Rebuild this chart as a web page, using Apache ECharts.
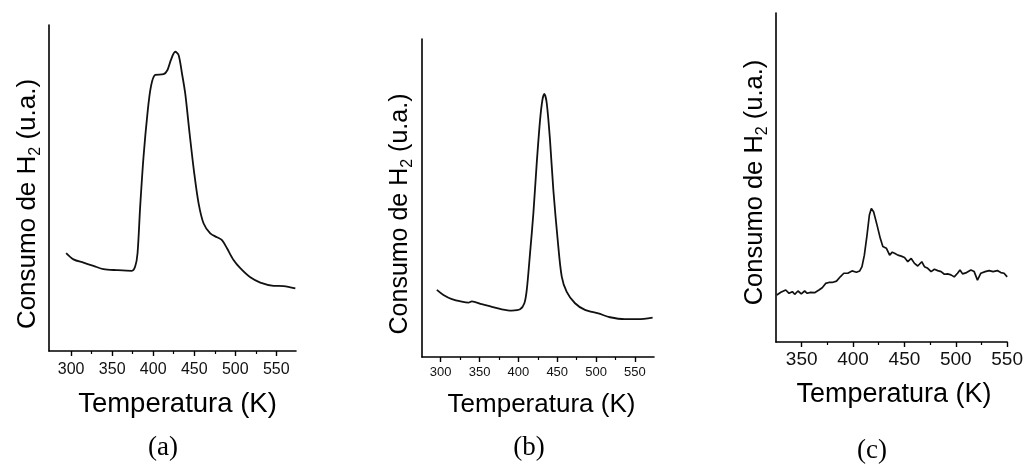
<!DOCTYPE html>
<html>
<head>
<meta charset="utf-8">
<script src="https://cdn.jsdelivr.net/npm/echarts@6/dist/echarts.min.js"></script>
<style>
html,body{margin:0;padding:0;background:#fff;}
#c{width:1026px;height:467px;}
</style>
</head>
<body>
<div id="c"></div>
<script>
// ---- data (a) ----
const tempA = [293.9,302.8,315,327.2,339.4,355.7,374,378,380.9,384.1,388.2,393,397.2,402.4,412.6,417.4,421.6,426.8,430.9,435,439,444.3,450,455.3,461.3,469.5,477.7,483.8,489.9,497.9,506.1,518.3,530.5,546.7,558.9,573.2];
const valA  = [30,28.1,27.1,26.1,25.1,24.8,24.6,25.9,30,44.3,59.6,72.9,81.1,84.7,84.9,86.2,89.3,91.8,90.8,85.2,79,66.8,54.5,45.3,39.2,36.1,34.9,34,31.5,27.9,25.4,22.6,21,20,19.9,19.2];
// ---- data (b) ----
const tempB = [295.1,303.6,314.4,327.2,335.7,340.1,352.9,365.8,378.7,391.5,402.2,407.7,410.8,415,419.3,423.6,427.9,430.9,433.4,436.5,440.7,445,450.6,455.8,462.2,472.9,485.7,502.8,517.9,537.1,554.2,572.7];
const valB  = [21.1,19.5,18.2,17.4,17.1,17.5,16.6,15.8,15,14.6,15,16.9,21.1,32.6,45.2,60.9,74.5,80.8,82.7,79.8,68.2,52.5,36.8,25.3,20.5,16.9,14.8,13.7,12.5,11.9,11.9,12.4];
// ---- data (c) ----
const tempC = [325.8,329.7,334.5,337.7,340.9,343.2,346.4,349.6,352.9,355.4,358.7,362.6,366.8,370,373.3,376.5,379.7,383.9,387.8,391,394.9,399,403.3,406.5,408.7,411,413.6,415.9,417.8,420,423.3,426.5,429,432.4,435.6,438.2,440.4,443.6,446.9,450.1,453.3,456.6,459.8,463,466.9,469.5,472.7,476,479.2,482.4,485.7,488.9,492.1,495.3,498.5,501.7,504.1,506.6,510.5,514.7,517.9,521.1,524.4,528.6,532.5,536.3,540.5,543.8,547,550];
const valC  = [14.3,15.1,15.8,14.8,15.3,14.5,15.5,14.6,15.5,14.8,15.1,15,15.8,16.5,17.8,18.1,18.1,18.5,19.9,20.9,20.9,21.6,21.2,21.6,22.9,26.4,32.5,38.6,40.6,39.6,35.6,31.5,29,28.5,26.4,27.3,27,26.4,26.1,25.7,24.4,25.4,23.9,23.1,24.4,22.9,22.4,21.4,22.1,21.7,21.4,20.6,20.7,20.4,19.8,20.9,21.9,20.7,21.1,21.9,21.4,18.8,20.9,21.4,21.7,21.4,21.7,21.1,20.9,19.8];
// ---- tick labels ----
const ticksAB = [300,350,400,450,500,550];
const minorAB = [325,375,425,475,525,575];
const ticksC = [350,400,450,500,550];
const minorC = [375,425,475,525];
const xName = 'Temperatura (K)';
const yName = '{n|Consumo de H}{s|2}{n| (u.a.)}';
const panelLabels = ['(a)','(b)','(c)'];

const pair = (xs, ys) => xs.map((x, i) => [x, ys[i]]);
const SANS = 'Liberation Sans, Arial, sans-serif';

const grids = [
  {left:49, top:25, width:247, height:326},
  {left:422, top:39, width:232, height:318},
  {left:776, top:13, width:233, height:329}
];
const xr = [[273,574],[276,574.5],[325,550]];
const ticks = [ticksAB, ticksAB, ticksC];
const minors = [minorAB, minorAB, minorC];
const labelSize = [16,13,19];
const labelMargin = [11,9,8];
const xNameSize = [27.5,26,27];
const xNameGap = [39,35,39];
const xNamePad = [[0,0,0,10],[0,0,0,7],[0,0,0,5]];
const yNameSize = [26,25,25.5];
const yNameGap = [5,6,5];
const yNamePad = [[0,32,0,0],[0,32,0,0],[0,10,0,0]];

const xAxis = [], yAxis = [];
for (let i = 0; i < 3; i++) {
  xAxis.push({
    type:'value', gridIndex:i, min:xr[i][0], max:xr[i][1], position:'bottom',
    axisLine:{show:true, onZero:false, lineStyle:{color:'#000', width:1.6}},
    axisTick:{show:true, inside:false, length:5, customValues:ticks[i], lineStyle:{color:'#000', width:1.4}},
    axisLabel:{show:true, customValues:ticks[i], fontSize:labelSize[i], fontFamily:SANS, color:'#111', margin:labelMargin[i]},
    splitLine:{show:false},
    name:xName, nameLocation:'middle', nameGap:xNameGap[i],
    nameTextStyle:{fontSize:xNameSize[i], fontFamily:SANS, color:'#000', padding:xNamePad[i]}
  });
  xAxis.push({
    type:'value', gridIndex:i, min:xr[i][0], max:xr[i][1], position:'bottom',
    axisLine:{show:false},
    axisTick:{show:true, inside:false, length:3, customValues:minors[i], lineStyle:{color:'#000', width:1.2}},
    axisLabel:{show:false},
    splitLine:{show:false}
  });
  const fs = yNameSize[i];
  yAxis.push({
    type:'value', gridIndex:i, min:0, max:100,
    axisLine:{show:true, lineStyle:{color:'#000', width:1.6}},
    axisTick:{show:false}, axisLabel:{show:false}, splitLine:{show:false},
    name:yName, nameLocation:'middle', nameRotate:90, nameGap:yNameGap[i],
    nameTextStyle:{
      padding:yNamePad[i],
      rich:{
        n:{fontSize:fs, fontFamily:SANS, color:'#000', lineHeight:32, verticalAlign:'middle'},
        s:{fontSize:Math.round(fs*0.62), fontFamily:SANS, color:'#000', lineHeight:14, verticalAlign:'bottom'}
      }
    }
  });
}

const lineStyle = {color:'#111', width:1.8};
const series = [
  {type:'line', xAxisIndex:0, yAxisIndex:0, data:pair(tempA, valA), showSymbol:false, smooth:0.3, lineStyle},
  {type:'line', xAxisIndex:2, yAxisIndex:1, data:pair(tempB, valB), showSymbol:false, smooth:0.3, lineStyle},
  {type:'line', xAxisIndex:4, yAxisIndex:2, data:pair(tempC, valC), showSymbol:false, smooth:false, lineStyle:{color:'#111', width:1.7}}
];

const labelPos = [[163,448],[529,448],[872,451]];
const graphic = panelLabels.map((t, i) => ({
  type:'text', x:labelPos[i][0], y:labelPos[i][1],
  style:{text:t, fontSize:27, fontFamily:'Liberation Serif, Times New Roman, serif', fill:'#000', align:'center', verticalAlign:'middle'}
}));

const chart = echarts.init(document.getElementById('c'), null, {renderer:'canvas'});
chart.setOption({
  animation:false,
  backgroundColor:'#fff',
  grid:grids,
  xAxis, yAxis, series, graphic
});
</script>
</body>
</html>
